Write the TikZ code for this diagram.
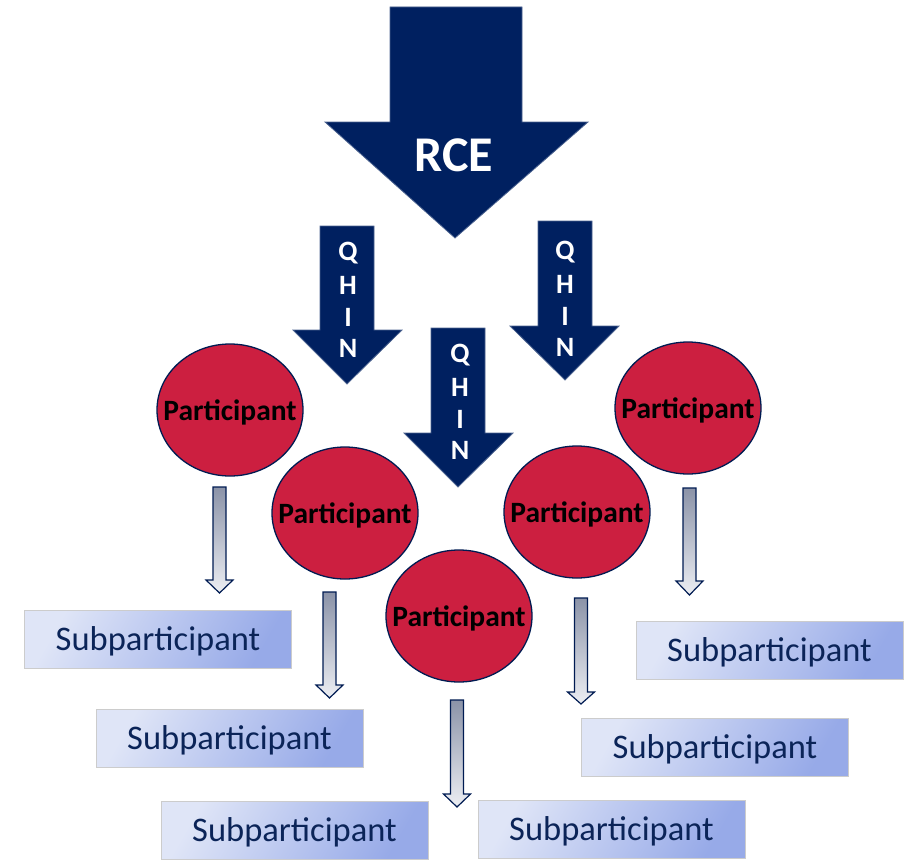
\documentclass[tikz,border=0pt]{standalone}
\usepackage{fontspec}
\setmainfont{Carlito}
\usetikzlibrary{shapes.geometric}
\definecolor{navy}{HTML}{002060}
\definecolor{crim}{HTML}{CC1F40}
\definecolor{boxlight}{HTML}{DFE5F7}
\definecolor{boxdark}{HTML}{97AAE8}
\definecolor{subtext}{HTML}{0B2458}
\definecolor{gtop}{HTML}{8B93A8}
\definecolor{gbot}{HTML}{ECEEF3}
\newcommand{\grayarrow}[4]{% x, top, head start, tip
  \path[garrow] (#1-6.5,#2) -- (#1+6.5,#2) -- (#1+6.5,#3) -- (#1+13.5,#3) -- (#1,#4)
    -- (#1-13.5,#3) -- (#1-6.5,#3) -- cycle;}
\begin{document}
\begin{tikzpicture}[x=1pt,y=-1pt,
  bigarrow/.style={fill=navy, draw=navy!70!white, line width=0.8pt, line join=miter},
  garrow/.style={top color=gtop, bottom color=gbot, draw=navy!85!black, line width=1.2pt, line join=miter},
  part/.style={ellipse, draw=navy!85!black, line width=1.3pt, fill=crim, minimum width=146pt, minimum height=132pt, inner sep=0pt},
  ptext/.style={font=\fontsize{29.5}{30}\selectfont\bfseries, text=black, inner sep=0pt},
  qletter/.style={font=\fontsize{28}{30}\selectfont\bfseries, text=white, inner sep=0pt, anchor=center},
  subbox/.style={draw=gray!40, line width=0.6pt, top color=boxlight, bottom color=boxdark, shading angle=60,
    minimum width=267pt, minimum height=58pt, inner sep=0pt},
  subtxt/.style={text=subtext, font=\fontsize{34.5}{36}\selectfont, inner sep=0pt}
]
\useasboundingbox (0,0) rectangle (909,859);
% big RCE arrow
\path[bigarrow] (390,7) -- (522,7) -- (522,122) -- (588,122) -- (455,238) -- (325,122) -- (390,122) -- cycle;
\node[font=\fontsize{50}{52}\selectfont\bfseries, text=white, inner sep=0pt] (rce) at (454,155) {RCE};
% QHIN arrows
\path[bigarrow] (320,226) -- (374,226) -- (374,330) -- (402,330) -- (347,384) -- (293,330) -- (320,330) -- cycle;
\path[bigarrow] (538,221) -- (592,221) -- (592,326) -- (619,326) -- (565,380) -- (510,326) -- (538,326) -- cycle;
\path[bigarrow] (431,328) -- (485,328) -- (485,433) -- (513,433) -- (458,487) -- (404,433) -- (431,433) -- cycle;
\foreach \nm/\x/\y in {qa/348/253, qb/565/252, qc/460/355} {
  \node[qletter] (\nm Q) at (\x,\y) {\vphantom{H}Q};
  \node[qletter] (\nm H) at (\x,\y+32) {H};
  \node[qletter] (\nm I) at (\x,\y+64) {I};
  \node[qletter] (\nm N) at (\x,\y+95) {N};
}
% participants
\node[part] (p1) at (230,410) {};
\node[part] (p2) at (345,513) {};
\node[part] (p3) at (459,616) {};
\node[part] (p4) at (577,512) {};
\node[part] (p5) at (688,408) {};
\foreach \n in {p1,p2,p3,p4,p5} {\node[ptext] at ([yshift=-2pt]\n) {Participant};}
% gray arrows
\grayarrow{219.5}{487}{580}{593}
\grayarrow{329.5}{592}{685}{698}
\grayarrow{457}{700}{794}{807}
\grayarrow{581}{598}{692}{704}
\grayarrow{689.5}{488}{581}{595}
% subparticipants
\node[subbox] (s1) at (158,639.5) {};
\node[subbox] (s2) at (229.5,738) {};
\node[subbox] (s3) at (294.5,830) {};
\node[subbox] (s4) at (611.5,829) {};
\node[subbox] (s5) at (715,747) {};
\node[subbox] (s6) at (769.5,650.5) {};
\foreach \n in {s1,s2,s3,s4,s5,s6} {\node[subtxt] at ([yshift=-2pt]\n) {Subparticipant};}
\end{tikzpicture}
\end{document}
